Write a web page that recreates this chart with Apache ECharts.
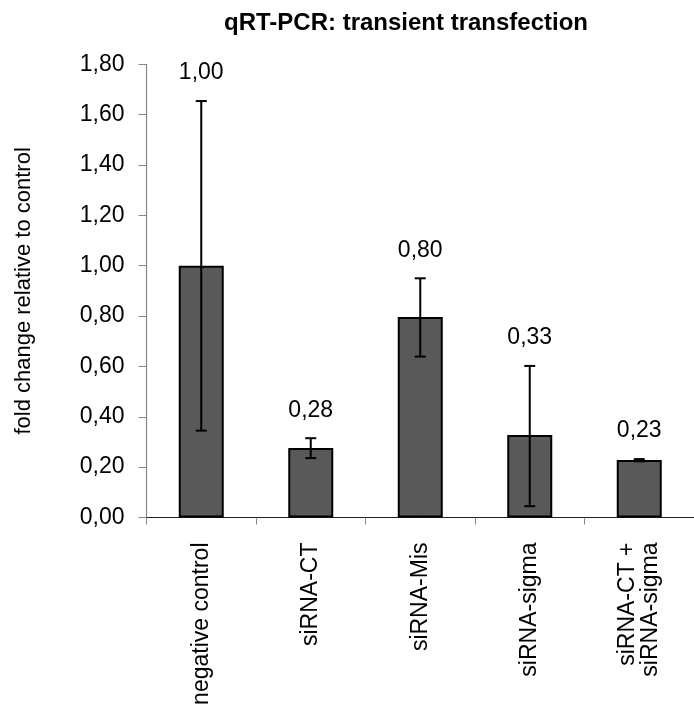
<!DOCTYPE html>
<html>
<head>
<meta charset="utf-8">
<script src="https://cdn.jsdelivr.net/npm/echarts@6/dist/echarts.min.js"></script>
<style>
  html, body { margin: 0; padding: 0; background: #fff; }
  #chart { width: 694px; height: 711px; }
</style>
</head>
<body>
<div id="chart"></div>
<script>
const titleText = 'qRT-PCR: transient transfection';
const yAxisName = 'fold change relative to control';
const categories = ['negative control', 'siRNA-CT', 'siRNA-Mis', 'siRNA-sigma', 'siRNA-CT +\nsiRNA-sigma'];
const values = [1.00, 0.276, 0.796, 0.328, 0.228];
const errLow = [0.345, 0.236, 0.639, 0.045, 0.223];
const errHigh = [1.654, 0.315, 0.950, 0.602, 0.232];
const yMin = 0, yMax = 1.8, yInterval = 0.2;

const FONT = '"Liberation Sans", Arial, sans-serif';
const fmt = v => v.toFixed(2).replace('.', ',');

const chart = echarts.init(document.getElementById('chart'));
chart.setOption({
  animation: false,
  backgroundColor: '#ffffff',
  title: {
    text: titleText,
    left: 219,
    top: 6,
    textStyle: { fontFamily: FONT, fontSize: 24, fontWeight: 'bold', color: '#000' }
  },
  grid: { left: 146.5, right: -9, top: 64.3, bottom: 193.5, containLabel: false },
  xAxis: {
    type: 'category',
    data: categories,
    axisLine: { lineStyle: { color: '#222', width: 1 } },
    axisTick: { show: true, length: 7, lineStyle: { color: '#888' } },
    axisLabel: {
      rotate: 90, margin: 25, interval: 0,
      fontFamily: FONT, fontSize: 23, color: '#000', lineHeight: 23
    }
  },
  yAxis: {
    type: 'value',
    min: yMin, max: yMax, interval: yInterval,
    name: yAxisName,
    nameLocation: 'middle',
    nameGap: 112,
    nameTextStyle: { fontFamily: FONT, fontSize: 22, color: '#000' },
    axisLine: { show: true, lineStyle: { color: '#888', width: 1.2 } },
    axisTick: { show: true, inside: false, length: 8, lineStyle: { color: '#888' } },
    splitLine: { show: false },
    axisLabel: {
      margin: 22, fontFamily: FONT, fontSize: 23, color: '#000',
      formatter: v => fmt(v)
    }
  },
  series: [
    {
      type: 'bar',
      data: values,
      barWidth: 45,
      itemStyle: { color: '#595959', borderColor: '#000', borderWidth: 2 },
      z: 2
    },
    {
      type: 'custom',
      z: 3,
      data: categories.map((c, i) => [i, errLow[i], errHigh[i], values[i]]),
      renderItem: function (params, api) {
        const lo = api.coord([api.value(0), api.value(1)]);
        const hi = api.coord([api.value(0), api.value(2)]);
        const cap = 5.5;
        const st = { stroke: '#000', lineWidth: 2 };
        return {
          type: 'group',
          children: [
            { type: 'line', shape: { x1: lo[0], y1: lo[1], x2: hi[0], y2: hi[1] }, style: st },
            { type: 'line', shape: { x1: lo[0] - cap, y1: lo[1], x2: lo[0] + cap, y2: lo[1] }, style: st },
            { type: 'line', shape: { x1: hi[0] - cap, y1: hi[1], x2: hi[0] + cap, y2: hi[1] }, style: st },
            {
              type: 'text',
              style: {
                text: fmt(api.value(3)),
                x: hi[0], y: hi[1] - 28,
                align: 'center', verticalAlign: 'middle',
                font: '23px ' + FONT, fill: '#000'
              }
            }
          ]
        };
      }
    }
  ]
});
</script>
</body>
</html>
